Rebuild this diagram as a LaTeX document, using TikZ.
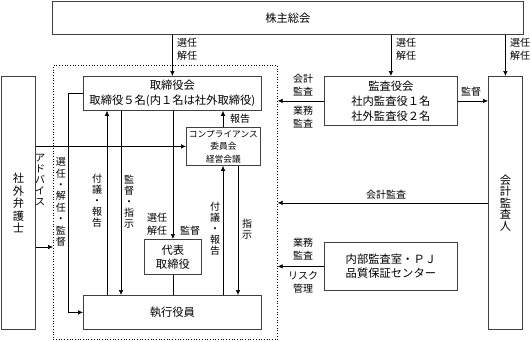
\documentclass[tikz,border=0pt]{standalone}
\usepackage{fontspec}
\setmainfont{Noto Sans CJK JP}
\usetikzlibrary{arrows.meta}
\begin{document}
\begin{tikzpicture}[x=1pt,y=-1pt,
  box/.style={draw=black!75,line width=0.8pt,anchor=north west,inner sep=0pt,align=center},
  ln/.style={line width=0.6pt},
  arr/.style={ln,-{Latex[length=5pt,width=4.5pt]}},
  lab/.style={font=\fontsize{10}{13}\selectfont,inner sep=0pt,align=center},
  vlab/.style={font=\fontsize{10}{11}\selectfont,inner sep=0pt,align=center},
  mainf/.style={font=\fontsize{11.3}{15}\selectfont}
]
\useasboundingbox (0,0) rectangle (531,341);
% group (dotted)
\node[box,draw=black,line width=0.7pt,dotted,minimum width=224pt,minimum height=274pt] (grp) at (53,65) {};
% boxes
\node[box,mainf,minimum width=471pt,minimum height=33pt] (sh) at (52,1) {株主総会};
\node[box,mainf,minimum width=34pt,minimum height=253pt] (law) at (1,76) {};
\node[box,mainf,minimum width=34pt,minimum height=253pt] (aud) at (488,76) {};
\node[box,mainf,minimum width=178pt,minimum height=34pt] (tb) at (83,76) {取締役会\\取締役５名(内１名は社外取締役)};
\node[box,mainf,minimum width=133pt,minimum height=49pt] (ka) at (324,76) {監査役会\\社内監査役１名\\社外監査役２名};
\node[box,font=\fontsize{8.7}{12.5}\selectfont,minimum width=74pt,minimum height=38pt] (comp) at (186,127) {コンプライアンス\\委員会\\経営会議};
\node[box,font=\fontsize{11.3}{14}\selectfont,minimum width=57pt,minimum height=35pt] (dh) at (144,239) {代表\\取締役};
\node[box,mainf,minimum width=178pt,minimum height=34pt] (sk) at (83,295) {執行役員};
\node[box,font=\fontsize{11.3}{14.5}\selectfont,minimum width=133pt,minimum height=48pt] (nb) at (324,242) {内部監査室・ＰＪ\\品質保証センター};
% vertical texts in side boxes
\node[inner sep=0pt,align=center,font=\fontsize{11.3}{12.5}\selectfont] (lawt) at (law.center) {社\\外\\弁\\護\\士};
\node[inner sep=0pt,align=center,font=\fontsize{11.3}{11.5}\selectfont] (audt) at (aud.center) {会\\計\\監\\査\\人};
% helper coordinates
\coordinate (x68) at (68,0);
\coordinate (x107) at (107,0);
\coordinate (x121) at (121,0);
\coordinate (x223) at (223,0);
\coordinate (x238) at (238,0);
\coordinate (y247) at (0,247);
% top arrows
\draw[arr] (sh.south -| tb.north) -- (tb.north);
\draw[arr] (sh.south -| ka.north) -- (ka.north);
\draw[arr] (sh.south -| aud.north) -- (aud.north);
\node[lab] (l1) at (187,49) {選任\\解任};
\node[lab] (l2) at (406,49) {選任\\解任};
\node[lab] (l3) at (520,49) {選任\\解任};
% audit arrows
\draw[arr] (ka.west) -- (ka.west -| grp.east);
\node[lab] (l4) at (303,85) {会計\\監査};
\node[lab] (l5) at (303,117) {業務\\監査};
\draw[arr] (ka.east) -- (ka.east -| aud.west);
\node[lab] (l6) at (471,92) {監督};
\draw[arr] (aud.west) -- (aud.west -| grp.east);
\node[lab] (l7) at (386,195) {会計監査};
\draw[arr] (nb.west) -- (nb.west -| grp.east);
\node[lab] (l8) at (303,249) {業務\\監査};
\node[lab] (l9) at (303,282) {リスク\\管理};
% lawyer arrows
\draw[arr] (law.east |- comp.west) -- (comp.west);
\draw[arr] (law.east |- y247) -- (grp.west |- y247);
\node[vlab] (l10) at (40,180) {ア\\ド\\バ\\イ\\ス};
\node[vlab,font=\fontsize{10}{11.4}\selectfont] (l11) at (61,202) {選\\任\\・\\解\\任\\・\\監\\督};
% board internal
\draw[arr] (tb.west) -- (x68 |- tb.west) |- (sk.west);
\draw[arr] (x107 |- sk.north) -- (x107 |- tb.south);
\node[vlab] (l12) at (97,201) {付\\議\\・\\報\\告};
\draw[arr] (x121 |- tb.south) -- (x121 |- sk.north);
\node[vlab] (l13) at (129,202) {監\\督\\・\\指\\示};
\draw[arr] (tb.south -| dh.north) -- (dh.north);
\node[lab] (l14) at (157,224) {選任\\解任};
\node[lab] (l15) at (190,231) {監督};
\draw[ln] (dh.south) -- (dh.south |- sk.north);
\draw[arr] (x223 |- comp.north) -- (x223 |- tb.south);
\node[lab] (l16) at (240,119) {報告};
\draw[arr] (x223 |- sk.north) -- (x223 |- comp.south);
\node[vlab] (l17) at (215,229) {付\\議\\・\\報\\告};
\draw[arr] (x238 |- comp.south) -- (x238 |- sk.north);
\node[vlab] (l18) at (247,229) {指\\示};
\end{tikzpicture}
\end{document}
